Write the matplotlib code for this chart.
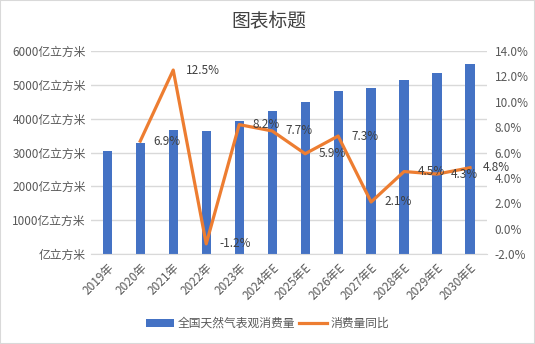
import matplotlib
matplotlib.use("Agg")
import matplotlib.pyplot as plt
import numpy as np
from matplotlib.patches import Rectangle
from matplotlib.ticker import FuncFormatter, MultipleLocator

plt.rcParams['font.family'] = ['Noto Sans CJK SC', 'DejaVu Sans']

categories = ["2019年", "2020年", "2021年", "2022年", "2023年", "2024年E", "2025年E",
              "2026年E", "2027年E", "2028年E", "2029年E", "2030年E"]
consumption = [3040, 3277, 3673, 3634, 3941, 4228, 4495, 4822, 4911, 5149, 5356, 5624]
growth = [np.nan, 6.9, 12.5, -1.2, 8.2, 7.7, 5.9, 7.3, 2.1, 4.5, 4.3, 4.8]

TXT = "#595959"
BLUE = "#4472C4"
ORANGE = "#ED7D31"

fig = plt.figure(figsize=(5.35, 3.44), dpi=100)
fig.patches.append(Rectangle((0, 0), 1, 1, transform=fig.transFigure, fill=False,
                             edgecolor="#D9D9D9", linewidth=1.5))
ax = fig.add_axes([0.1697, 0.2616, 0.7397, 0.5901])
x = np.arange(len(categories))
ax.bar(x, consumption, width=0.28, color=BLUE, zorder=2, label="全国天然气表观消费量")
ax.set_xlim(-0.5, len(categories) - 0.5)
ax.set_ylim(0, 6000)
ax.yaxis.set_major_locator(MultipleLocator(1000))
ax.yaxis.set_major_formatter(FuncFormatter(lambda v, p: "亿立方米" if v == 0 else f"{int(v)}亿立方米"))
ax.grid(axis='y', color="#D9D9D9", linewidth=1, zorder=0)
for s in ['top', 'right', 'left']:
    ax.spines[s].set_visible(False)
ax.spines['bottom'].set_color("#D9D9D9")
ax.tick_params(axis='both', length=0, colors=TXT, labelsize=8.5)
ax.set_xticks(x)
ax.set_xticklabels(categories, rotation=45, ha='right', rotation_mode='anchor')
ax.tick_params(axis='x', pad=5)

ax2 = ax.twinx()
ax2.plot(x, growth, color=ORANGE, linewidth=2.3, zorder=3, label="消费量同比")
ax2.set_ylim(-2, 14)
ax2.yaxis.set_major_locator(MultipleLocator(2))
ax2.yaxis.set_major_formatter(FuncFormatter(lambda v, p: f"{v:.1f}%"))
ax2.tick_params(axis='y', length=0, colors=TXT, labelsize=8.5, pad=6)
for s in ['top', 'right', 'left', 'bottom']:
    ax2.spines[s].set_visible(False)
for xi, g in zip(x, growth):
    if not np.isnan(g):
        ax2.annotate(f"{g:.1f}%", (xi, g), xytext=(9.5, 0), textcoords='offset points',
                     ha='left', va='center', fontsize=8.5, color="#404040")

fig.text(0.502, 0.94, "图表标题", ha='center', va='center', fontsize=13.5,
         fontweight='medium', color="#404040")

h1, l1 = ax.get_legend_handles_labels()
h2, l2 = ax2.get_legend_handles_labels()
fig.legend(h1 + h2, l1 + l2, loc='center', bbox_to_anchor=(0.5, 0.06), ncol=2,
           frameon=False, fontsize=8.5, labelcolor=TXT, handlelength=2.4,
           handletextpad=0.3, columnspacing=0.3)

fig.savefig("out.png", dpi=100)
